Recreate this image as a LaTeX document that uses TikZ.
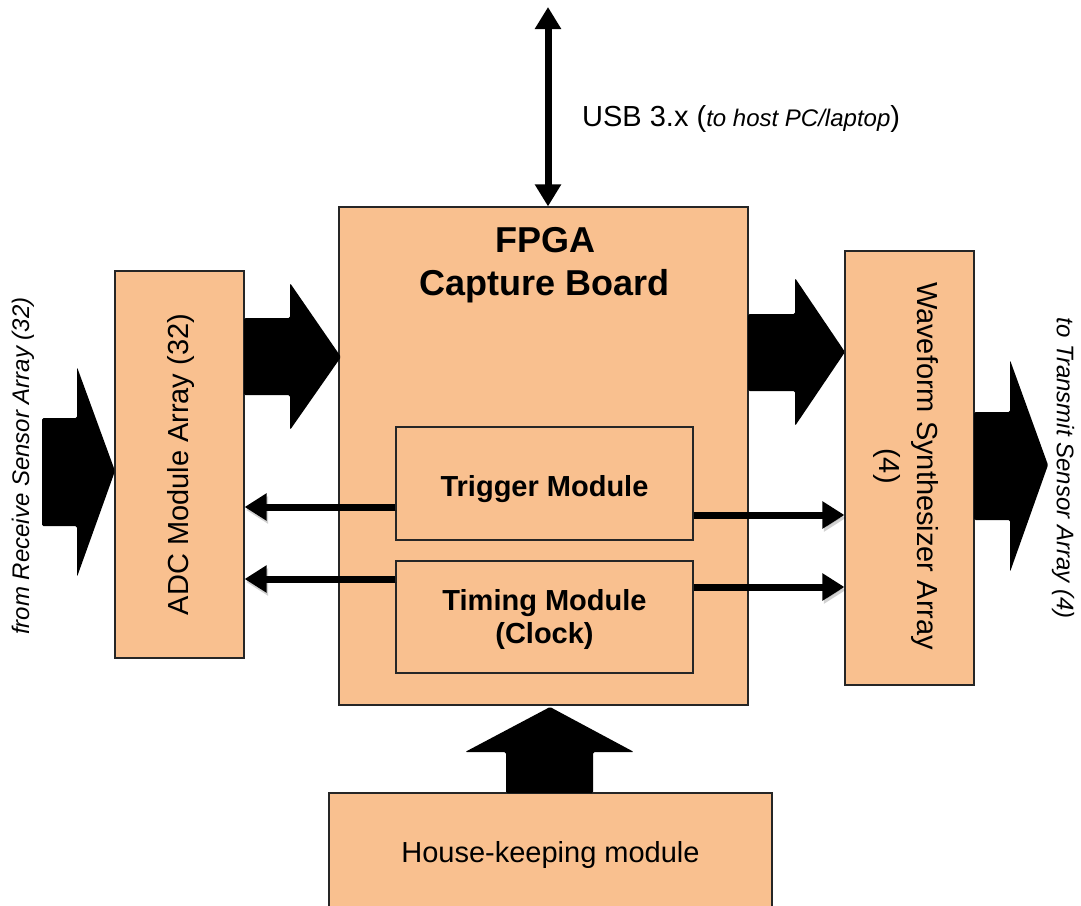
\documentclass[tikz,border=0pt]{standalone}
\usepackage{fontspec}
\setmainfont{Liberation Sans}
\usetikzlibrary{arrows.meta,calc}
\definecolor{peach}{HTML}{F9C08F}
\definecolor{edgecol}{HTML}{262626}
\begin{document}
\begin{tikzpicture}[x=1pt,y=-1pt,
  box/.style={draw=edgecol, line width=1.2pt, fill=peach, inner sep=0pt},
  regtext/.style={font=\fontsize{29}{33}\selectfont, inner sep=0pt},
  boldtext/.style={font=\fontsize{29}{33}\selectfont\bfseries, align=center, inner sep=0pt},
  sidetext/.style={font=\fontsize{24}{28}\selectfont\itshape, inner sep=0pt},
  thinarrow/.style={line width=7pt, -{Triangle[length=22pt,width=26pt]},
    preaction={draw=black, opacity=0.18, transform canvas={xshift=1.5pt,yshift=-3pt}}},
  usbarrow/.style={line width=7pt, {Triangle[length=22pt,width=25pt]}-{Triangle[length=22pt,width=25pt]}},
  blockarrow/.style={fill=black, rounded corners=1.5pt}]
\clip (0,0) rectangle (1081,905);
\useasboundingbox (0,0) rectangle (1081,905);

% boxes
\node[box, minimum width=409pt, minimum height=498pt] (fpga) at (543.5,456) {};
\node[box, minimum width=129pt, minimum height=387pt] (adc) at (179.5,464.5) {};
\node[box, minimum width=129pt, minimum height=434pt] (wf) at (909.5,468) {};
\node[box, minimum width=297pt, minimum height=113pt] (trig) at (544.5,483.5) {};
\node[box, minimum width=297pt, minimum height=112pt] (tim) at (544.5,617) {};
\node[box, minimum width=443pt, minimum height=118pt] (hk) at (550.5,852) {};

% box texts
\node[boldtext] (triglabel) at ([yshift=-6pt]trig.center) {Trigger Module};
\node[boldtext] (timlabel) at ([yshift=-2pt]tim.center) {Timing Module\\(Clock)};
\node[regtext] (hklabel) at ([yshift=-3pt]hk.center) {House-keeping module};
\node[font=\fontsize{36}{43}\selectfont\bfseries, align=center, inner sep=0pt] (fpgatitle) at (545,265) {FPGA\\Capture Board};
\node[regtext, rotate=90] (adclabel) at ([xshift=1.5pt]adc.center) {ADC Module Array (32)};
\node[regtext, rotate=-90, align=center, font=\fontsize{29}{38}\selectfont] (wflabel) at (906,466) {Waveform Synthesizer Array\\(4)};
\node[sidetext, rotate=90] (inlabel) at (23,466) {from Receive Sensor Array (32)};
\node[sidetext, rotate=-90] (outlabel) at (1063,468) {to Transmit Sensor Array (4)};
\node[regtext, anchor=west] (usblabel) at (582,118.5) {USB 3.x ({\fontsize{24}{28}\selectfont\itshape to host PC/laptop})};

% USB connector
\coordinate (usbtop) at (548,7);
\draw[usbarrow] (usbtop) -- (usbtop |- fpga.north);

% thin arrows
\draw[thinarrow] ([yshift=-23.5pt]trig.west) -- ([yshift=-23.5pt]trig.west -| adc.east);
\draw[thinarrow] ([yshift=-31.5pt]trig.east) -- ([yshift=-31.5pt]trig.east -| wf.west);
\draw[thinarrow] ([yshift=38pt]tim.west) -- ([yshift=38pt]tim.west -| adc.east);
\draw[thinarrow] ([yshift=30pt]tim.east) -- ([yshift=30pt]tim.east -| wf.west);

% block arrows
\fill[blockarrow] (42,418) -- (77,418) -- (77,367) -- (115,471) -- (77,577) -- (77,526) -- (42,526) -- cycle;
\fill[blockarrow] (244,318) -- (290,318) -- (290,283) -- (341,357) -- (290,430) -- (290,395) -- (244,395) -- cycle;
\fill[blockarrow] (748,314) -- (795,314) -- (795,278) -- (845,352) -- (795,426) -- (795,391) -- (748,391) -- cycle;
\fill[blockarrow] (974,412) -- (1010,412) -- (1010,360) -- (1048,465) -- (1010,572) -- (1010,520) -- (974,520) -- cycle;
\fill[blockarrow] (506,793) -- (506,752) -- (465,752) -- (550,707) -- (634,752) -- (593,752) -- (593,793) -- cycle;
\end{tikzpicture}
\end{document}
